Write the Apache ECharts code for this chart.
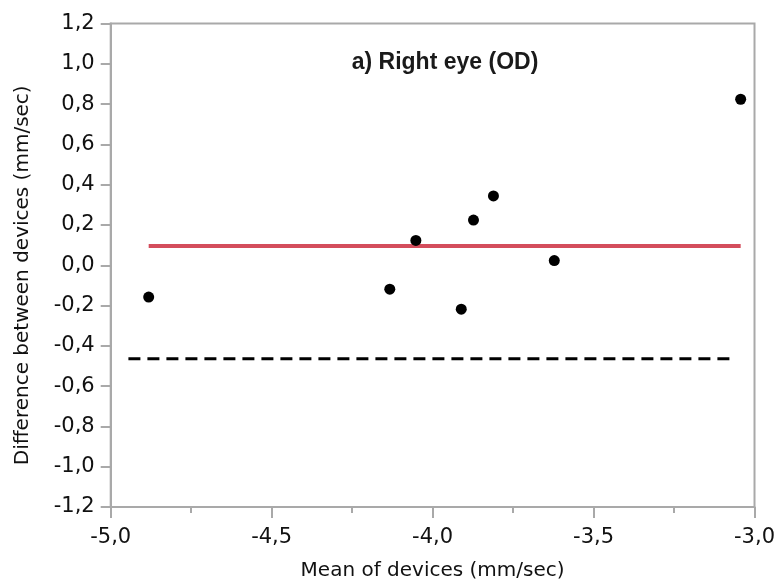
<!DOCTYPE html>
<html>
<head>
<meta charset="utf-8">
<script src="https://cdn.jsdelivr.net/npm/echarts@6/dist/echarts.min.js"></script>
<style>html,body{margin:0;padding:0;background:#fff;}#c{width:778px;height:586px;}</style>
</head>
<body>
<div id="c"></div>
<script>
// Data
const meanValues = [-4.882, -4.133, -4.052, -3.911, -3.873, -3.811, -3.622, -3.043];
const diffValues = [-0.158, -0.119, 0.123, -0.218, 0.224, 0.344, 0.023, 0.824];
const biasValue = 0.096;
const biasRange = [-4.882, -3.043];
const limitValue = -0.464;
const limitRange = [-4.945, -3.070];
const xTicks = [-5.0, -4.5, -4.0, -3.5, -3.0];
const yTicks = [-1.2, -1.0, -0.8, -0.6, -0.4, -0.2, 0.0, 0.2, 0.4, 0.6, 0.8, 1.0, 1.2];
const titleText = 'a) Right eye (OD)';
const xName = 'Mean of devices (mm/sec)';
const yName = 'Difference between devices (mm/sec)';

const fmt = v => v.toFixed(1).replace('.', ',');
const axisGray = '#a9a9a9';
const font = 'DejaVu Sans';

const chart = echarts.init(document.getElementById('c'), null, {renderer: 'canvas'});
chart.setOption({
  animation: false,
  backgroundColor: '#fff',
  title: {
    text: titleText,
    left: 440, top: 46, textAlign: 'center',
    textStyle: {fontFamily: 'Liberation Sans', fontWeight: 'bold', fontSize: 23, color: '#1a1a1a'}
  },
  grid: {
    left: 110.7, right: 22.3, top: 23.5, bottom: 78.7,
    show: true, borderColor: axisGray, borderWidth: 2, backgroundColor: 'transparent'
  },
  xAxis: {
    type: 'value',
    min: xTicks[0], max: xTicks[xTicks.length - 1], interval: 0.5,
    name: xName, nameLocation: 'middle', nameGap: 54,
    nameTextStyle: {fontFamily: font, fontSize: 20, color: '#111'},
    axisLine: {show: true, onZero: false, lineStyle: {color: axisGray, width: 2}},
    axisTick: {show: true, length: 11, lineStyle: {color: axisGray, width: 2}},
    minorTick: {show: true, splitNumber: 2, length: 6, lineStyle: {color: axisGray, width: 2}},
    axisLabel: {margin: 20, formatter: fmt, fontFamily: font, fontSize: 21, color: '#111'},
    splitLine: {show: false}
  },
  yAxis: {
    type: 'value',
    min: yTicks[0], max: yTicks[yTicks.length - 1], interval: 0.2,
    name: yName, nameLocation: 'middle', nameGap: 78,
    nameTextStyle: {fontFamily: font, fontSize: 20, color: '#111', padding: [0, 20, 0, 0]},
    axisLine: {show: true, onZero: false, lineStyle: {color: axisGray, width: 2}},
    axisTick: {show: true, length: 10, lineStyle: {color: axisGray, width: 2}},
    axisLabel: {margin: 16, formatter: fmt, fontFamily: font, fontSize: 21, color: '#111'},
    splitLine: {show: false}
  },
  series: [
    {
      type: 'line',
      data: biasRange.map(x => [x, biasValue]),
      symbol: 'none',
      lineStyle: {color: '#d44d5c', width: 4},
      z: 2
    },
    {
      type: 'line',
      data: limitRange.map(x => [x, limitValue]),
      symbol: 'none',
      lineStyle: {color: '#000', width: 3, type: [12, 7]},
      z: 2
    },
    {
      type: 'scatter',
      data: meanValues.map((x, i) => [x, diffValues[i]]),
      symbol: 'circle',
      symbolSize: 11,
      itemStyle: {color: '#000', opacity: 1},
      z: 3
    }
  ]
});
</script>
</body>
</html>
